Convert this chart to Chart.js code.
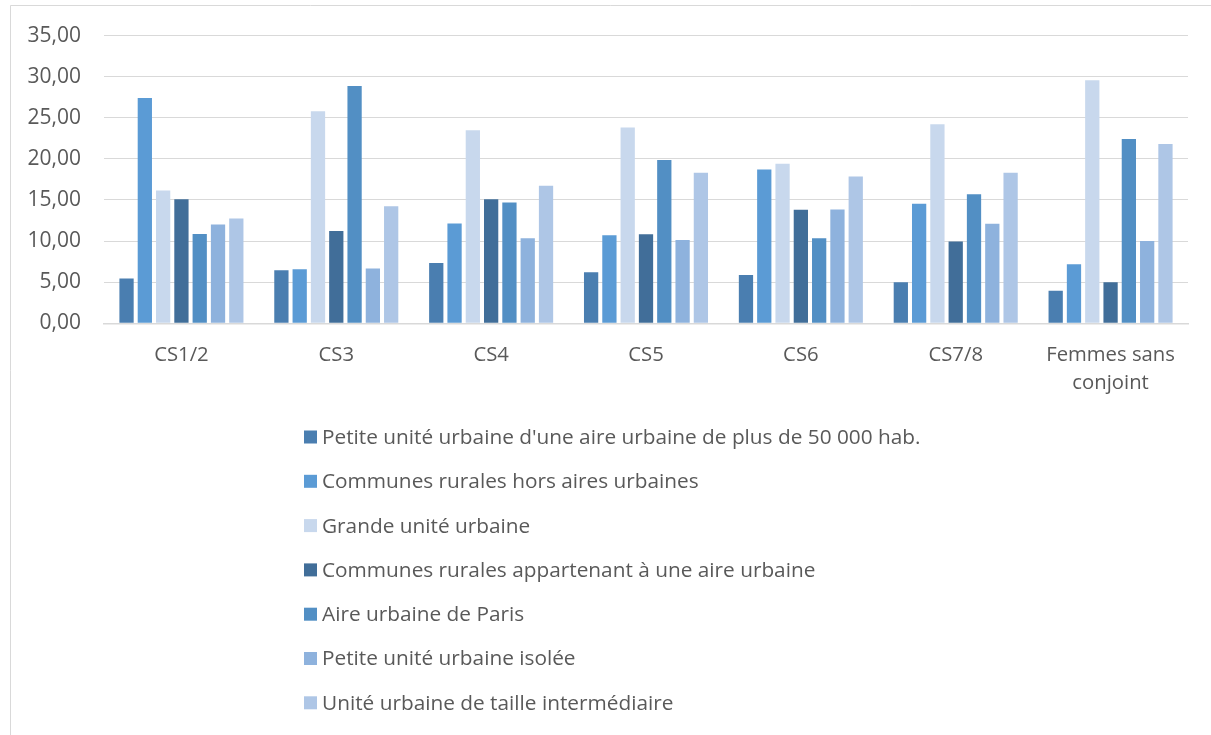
<!DOCTYPE html>
<html>
<head>
<meta charset="utf-8">
<script src="https://cdn.jsdelivr.net/npm/chart.js@4/dist/chart.umd.min.js"></script>
<style>
html,body{margin:0;padding:0;background:#fff;}
#wrap{position:relative;width:1211px;height:735px;}
</style>
</head>
<body>
<div id="wrap"><canvas id="c" width="1211" height="735"></canvas></div>
<script>
const categories = ["CS1/2", "CS3", "CS4", "CS5", "CS6", "CS7/8", ["Femmes sans", "conjoint"]];
const seriesNames = [
  "Petite unité urbaine d'une aire urbaine de plus de 50 000 hab.",
  "Communes rurales hors aires urbaines",
  "Grande unité urbaine",
  "Communes rurales appartenant à une aire urbaine",
  "Aire urbaine de Paris",
  "Petite unité urbaine isolée",
  "Unité urbaine de taille intermédiaire"
];
const petiteUUAire50000 = [5.45, 6.46, 7.34, 6.22, 5.89, 5.00, 3.95];
const communesRuralesHors = [27.42, 6.58, 12.15, 10.70, 18.70, 14.54, 7.18];
const grandeUU = [16.15, 25.81, 23.50, 23.82, 19.42, 24.23, 29.56];
const communesRuralesAire = [15.10, 11.22, 15.10, 10.82, 13.81, 9.94, 5.00];
const aireParis = [10.86, 28.87, 14.70, 19.87, 10.34, 15.70, 22.42];
const petiteUUIsolee = [12.03, 6.66, 10.34, 10.13, 13.85, 12.12, 10.01];
const uuIntermediaire = [12.76, 14.25, 16.72, 18.33, 17.85, 18.30, 21.81];
const yTicks = [0, 5, 10, 15, 20, 25, 30, 35];

const seriesValues = [petiteUUAire50000, communesRuralesHors, grandeUU, communesRuralesAire, aireParis, petiteUUIsolee, uuIntermediaire];
const colors = ["#4a7eb0", "#5b9bd5", "#c8d8ed", "#416e99", "#528fc4", "#8eb2dd", "#aec6e6"];

const FONT = "'Open Sans', 'Noto Sans', sans-serif";
const TEXT = "#595959";

const frame = {
  id: 'frame',
  beforeDraw(chart) {
    const ctx = chart.ctx;
    ctx.save();
    ctx.fillStyle = '#ffffff';
    ctx.fillRect(0, 0, chart.width, chart.height);
    ctx.strokeStyle = '#d9d9d9';
    ctx.lineWidth = 1;
    ctx.beginPath();
    ctx.moveTo(10.5, chart.height);
    ctx.lineTo(10.5, 5.5);
    ctx.lineTo(chart.width, 5.5);
    ctx.stroke();
    ctx.restore();
  }
};

const customLegend = {
  id: 'customLegend',
  afterDraw(chart) {
    const ctx = chart.ctx;
    ctx.save();
    ctx.font = "20.8px " + FONT;
    ctx.textBaseline = 'middle';
    ctx.textAlign = 'left';
    const startY = 437, step = 44.3;
    chart.data.datasets.forEach((ds, i) => {
      const y = startY + i * step;
      ctx.fillStyle = ds.backgroundColor;
      ctx.fillRect(304, y - 6.5, 13, 13);
      ctx.fillStyle = TEXT;
      ctx.fillText(ds.label, 322, y + 1);
    });
    ctx.restore();
  }
};

new Chart(document.getElementById('c'), {
  type: 'bar',
  data: {
    labels: categories,
    datasets: seriesNames.map((name, i) => ({
      label: name,
      data: seriesValues[i],
      backgroundColor: colors[i],
      borderWidth: 0,
      categoryPercentage: 0.827,
      barPercentage: 0.78
    }))
  },
  options: {
    responsive: false,
    animation: false,
    devicePixelRatio: 1,
    layout: { padding: { top: 34.5, right: 23, left: 0, bottom: 0 } },
    plugins: {
      legend: { display: false },
      tooltip: { enabled: false },
      title: { display: false }
    },
    scales: {
      x: {
        grid: { display: false, drawTicks: false },
        border: { display: true, color: '#d9d9d9', width: 1.5 },
        ticks: {
          color: TEXT,
          font: { family: FONT, size: 20.3, lineHeight: 1.38 },
          padding: 18,
          maxRotation: 0,
          autoSkip: false
        },
        afterFit(s) { s.height = 735 - 323.3; }
      },
      y: {
        min: 0,
        max: 35,
        afterBuildTicks(s) { s.ticks = yTicks.map(v => ({ value: v })); },
        grid: { color: '#d9d9d9', lineWidth: 1, drawTicks: false },
        border: { display: false },
        ticks: {
          color: TEXT,
          font: { family: FONT, size: 21 },
          padding: 23,
          callback: v => Number(v).toFixed(2).replace('.', ',')
        },
        afterFit(s) { s.width = 104; }
      }
    }
  },
  plugins: [frame, customLegend]
});
</script>
</body>
</html>
